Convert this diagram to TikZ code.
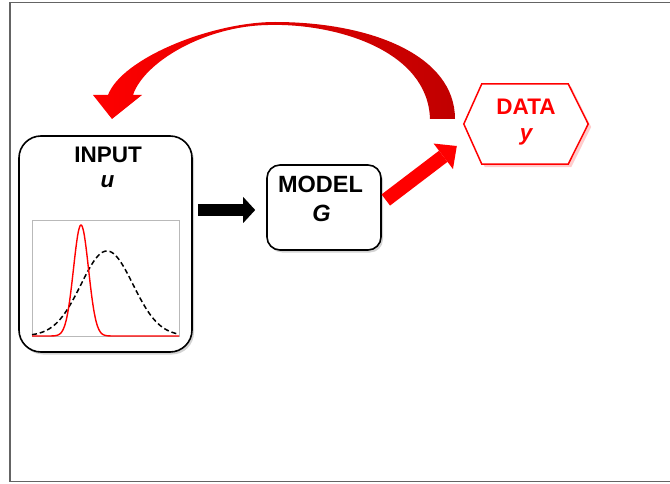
\documentclass[tikz,border=0pt]{standalone}
\usepackage{fontspec}
\setmainfont{Liberation Sans}
\usetikzlibrary{arrows.meta,calc,shadows}
\definecolor{pptred}{RGB}{255,0,0}
\definecolor{pptdark}{RGB}{192,0,0}
\definecolor{framegray}{RGB}{100,100,100}
\tikzset{
  box/.style={draw=black, line width=1.6pt, fill=white,
    drop shadow={opacity=0.35, shadow xshift=2pt, shadow yshift=-2.5pt}},
  lbl/.style={font=\fontsize{22.5}{26}\selectfont\bfseries, inner sep=0pt, anchor=base},
  biglbl/.style={lbl, font=\fontsize{23.5}{28}\selectfont\bfseries},
  redlbl/.style={lbl, text=pptred},
  blockblack/.style={line width=12pt, black, -{Triangle[length=12pt,width=26pt,line width=0pt]}},
  blockred/.style={line width=14pt, pptred, -{Triangle[length=17pt,width=32pt,line width=0pt]}},
}
\begin{document}
\begin{tikzpicture}[x=1pt,y=-1pt]
\useasboundingbox (0,0) rectangle (670,484);
% outer frame
\draw[framegray, line width=1.5pt] (10,2.5) rectangle (690,481.5);

% INPUT box
\node[box, rounded corners=22pt, minimum width=173pt, minimum height=216pt, inner sep=0pt] (input) at (105.5,244) {};
\node[lbl] (inputtxt) at (108,163) {INPUT};
\node[lbl] (inputvar) at (107.5,188) {\textit{u}};
% plot
\draw[gray!55, line width=0.6pt] (32,220) rectangle (179,336);
\draw[black, line width=1.5pt, dash pattern=on 5pt off 3pt]
  plot[domain=32:179, samples=150, smooth] (\x, {336-85*exp(-((\x-107)^2)/(2*26*26))});
\draw[pptred, line width=1.4pt]
  plot[domain=32:179, samples=200, smooth] (\x, {336-111*exp(-((\x-81)^2)/(2*7.5*7.5))});

% MODEL box
\node[box, rounded corners=13pt, minimum width=114pt, minimum height=85pt, inner sep=0pt] (model) at (324,207.5) {};
\node[biglbl] (modeltxt) at (320.5,193) {MODEL};
\node[biglbl] (modelvar) at (321.5,222) {\textit{G}};

% DATA hexagon
\node[minimum width=124pt, minimum height=80pt, inner sep=0pt] (data) at (526,124) {};
\fill[pptred!40, opacity=0.5] ($(data.west)+(3,3)$) -- ($(data.north west)+(21,3)$) -- ($(data.north east)+(-17,3)$)
  -- ($(data.east)+(3,3)$) -- ($(data.south east)+(-17,3)$) -- ($(data.south west)+(21,3)$) -- cycle;
\draw[pptred, line width=1.5pt, fill=white] (data.west) -- ($(data.north west)+(18,0)$) -- ($(data.north east)+(-20,0)$)
  -- (data.east) -- ($(data.south east)+(-20,0)$) -- ($(data.south west)+(18,0)$) -- cycle;
\node[redlbl] (datatxt) at (526,115) {DATA};
\node[redlbl] (datavar) at (526.5,141) {\textit{y}};

% connectors
\draw[blockblack] ($(input.east |- model.west)+(5,2.5)$) -- ($(model.west)+(-11,2.5)$);
\draw[blockred] ($(model.east)+(4,-7.5)$) -- ($(data.west)+(-7,22)$);

% curved feedback arrow
\shade[left color=pptred, middle color=pptred, right color=pptdark]
  (455,119) .. controls (455,55) and (370,22) .. (275,22)
  .. controls (212,22) and (122,58) .. (108,95)
  -- (93,95) -- (112,119) -- (142,95) -- (133,95)
  .. controls (144,62) and (205,26) .. (268,25)
  .. controls (335,23) and (428,50) .. (430,119) -- cycle;
\end{tikzpicture}
\end{document}
